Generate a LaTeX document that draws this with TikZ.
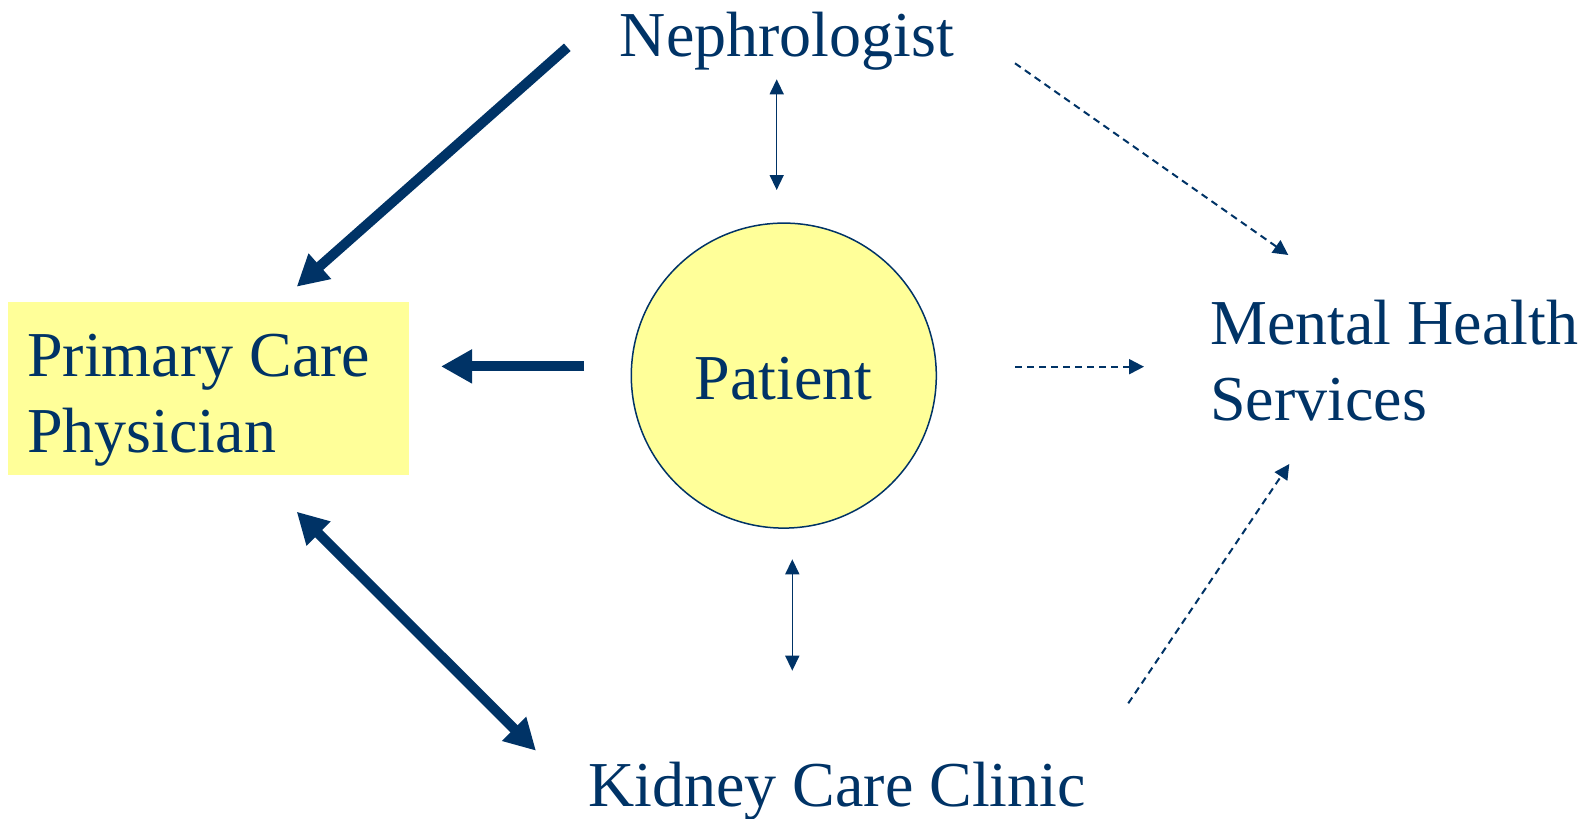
\documentclass[tikz,border=0pt]{standalone}
\usepackage{fontspec}
\setmainfont{Liberation Serif}
\usetikzlibrary{arrows.meta}
\definecolor{navy}{HTML}{003366}
\definecolor{paleyellow}{HTML}{FFFF99}
\tikzset{
  lbl/.style={text=navy, inner sep=0pt, font=\fontsize{64}{77}\selectfont},
  thick arrow/.style={draw=navy, line width=10pt, -{Triangle[length=31pt,width=32pt]}},
  thick double/.style={draw=navy, line width=10pt, {Triangle[length=31pt,width=32pt]}-{Triangle[length=31pt,width=32pt]}},
  thin double/.style={draw=navy, line width=1.5pt, {Triangle[length=15pt,width=14pt]}-{Triangle[length=15pt,width=14pt]}},
  dash arrow/.style={draw=navy, line width=2pt, dash pattern=on 7pt off 5pt, -{Triangle[length=15pt,width=15pt]}},
}
\begin{document}
\begin{tikzpicture}[x=1pt,y=-1pt]
\useasboundingbox (0,0) rectangle (1596,819);
% nodes
\node[fill=paleyellow, minimum width=401pt, minimum height=173pt, inner sep=0pt] (pcp) at (208.6,388.8) {};
\node[lbl, anchor=base west] (pcp1) at (27,376.6) {Primary Care};
\node[lbl, anchor=base west] (pcp2) at (27,452) {Physician};
\node[circle, draw=navy, line width=1.5pt, fill=paleyellow, minimum size=305pt, inner sep=0pt, lbl, text height=48pt, text depth=0pt] (patient) at (783.8,375.6) {Patient};
\node[lbl, anchor=base] (neph) at (787,56) {Nephrologist};
\node[lbl, anchor=base west] (mhs1) at (1210,344) {Mental Health};
\node[lbl, anchor=base west] (mhs2) at (1210,420) {Services};
\node[lbl, anchor=base] (kidney) at (837,806) {Kidney Care Clinic};
% connector ends
\coordinate (a1s) at (567.3,47.3);
\coordinate (a1e) at (296.7,286.7);
\coordinate (a2s) at (584,366.4);
\coordinate (a2e) at (441,366.4);
\coordinate (a3s) at (296.7,511.7);
\coordinate (a3e) at (536,750.7);
\coordinate (a4s) at (776.7,79.3);
\coordinate (a4e) at (776.7,190);
\coordinate (a5s) at (792.3,559.3);
\coordinate (a5e) at (792.3,670.7);
\coordinate (a6s) at (1015,63.3);
\coordinate (a6e) at (1288.3,255);
\coordinate (a7s) at (1015,366.7);
\coordinate (a7e) at (1144,366.7);
\coordinate (a8s) at (1128.3,703.3);
\coordinate (a8e) at (1289.3,464);
% connectors
\draw[thick arrow] (a1s) -- (a1e);
\draw[thick arrow] (a2s) -- (a2e);
\draw[thick double] (a3s) -- (a3e);
\draw[thin double] (a4s) -- (a4e);
\draw[thin double] (a5s) -- (a5e);
\draw[dash arrow] (a6s) -- (a6e);
\draw[dash arrow] (a7s) -- (a7e);
\draw[dash arrow] (a8s) -- (a8e);
\end{tikzpicture}
\end{document}
